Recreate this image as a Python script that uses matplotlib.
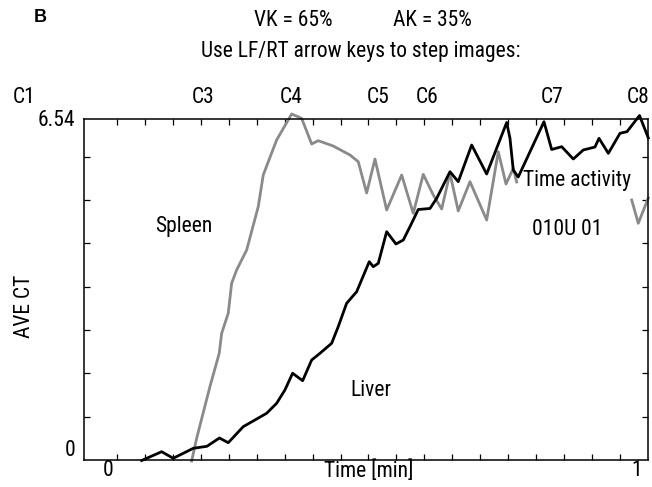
import numpy as np
import matplotlib
matplotlib.use("Agg")
import matplotlib.pyplot as plt
import matplotlib.transforms as mtransforms

plt.rcParams['font.family'] = ['Roboto Condensed', 'DejaVu Sans']

# liver curve (black), time in min vs AVE CT
liver_t = [0.0465, 0.0842, 0.1060, 0.1437, 0.1695, 0.1930, 0.2096, 0.2378,
           0.2819, 0.3007, 0.3163, 0.3308, 0.3497, 0.3667, 0.3823, 0.4043,
           0.4167, 0.4325, 0.4514, 0.4751, 0.4827, 0.4921, 0.5079, 0.5254,
           0.5392, 0.5518, 0.5674, 0.5895, 0.6021, 0.6271, 0.6427, 0.6680,
           0.6962, 0.7339, 0.7401, 0.7463, 0.7557, 0.8041, 0.8186, 0.8375,
           0.8593, 0.8782, 0.9002, 0.9077, 0.9253, 0.9473, 0.9605, 0.9840,
           1.0006]
liver_ct = [-0.01, 0.159, 0.033, 0.224, 0.263, 0.422, 0.332, 0.639,
            0.896, 1.087, 1.343, 1.663, 1.521, 1.918, 2.046, 2.238,
            2.557, 3.005, 3.228, 3.803, 3.707, 3.772, 4.379, 4.143,
            4.219, 4.475, 4.804, 4.824, 5.019, 5.529, 5.338, 6.041,
            5.485, 6.473, 6.170, 5.562, 5.428, 6.488, 5.955, 6.009,
            5.773, 5.946, 6.003, 6.170, 5.882, 6.266, 6.297, 6.607,
            6.176]

# spleen curve (grey), gap where the trace is missing
spleen_t = [0.1407, 0.1501, 0.1751, 0.1926, 0.1972, 0.2096, 0.2160, 0.2254,
            0.2443, 0.2661, 0.2755, 0.3007, 0.3290, 0.3478, 0.3667, 0.3791,
            0.4073, 0.4388, 0.4544, 0.4702, 0.4859, 0.5079, 0.5362, 0.5580,
            0.5768, 0.5957, 0.6115, 0.6271, 0.6427, 0.6648, 0.6962, 0.7181,
            0.7326, 0.7463, 0.7527, 0.8600, 0.9693, 0.9817, 1.0006]
spleen_ct = [-0.02, 0.416, 1.406, 2.046, 2.430, 2.813, 3.389, 3.644,
             4.028, 4.858, 5.466, 6.137, 6.636, 6.553, 6.061, 6.124,
             6.022, 5.850, 5.721, 5.121, 5.773, 4.795, 5.466, 4.731,
             5.479, 5.082, 4.814, 5.499, 4.776, 5.338, 4.603, 5.913,
             5.293, 5.594, 5.332, np.nan, 4.987, 4.540, 5.025]

cycle_labels = ['C1', 'C3', 'C4', 'C5', 'C6', 'C7', 'C8']
cycle_t = [-0.175, 0.162, 0.328, 0.492, 0.584, 0.819, 0.981]

y_max = 6.54

fig = plt.figure(figsize=(6.52, 4.87), dpi=100)
ax = fig.add_axes([84/652, 27/487, 564/652, 341/487])

ax.plot(spleen_t, spleen_ct, color='#8a8a8a', lw=2.0, clip_on=False,
        solid_joinstyle='round')
ax.plot(liver_t, liver_ct, color='k', lw=2.0, clip_on=False,
        solid_joinstyle='round')

ax.set_xlim(-0.062, 1.0)
ax.set_ylim(0, y_max)
ax.set_xticks(np.arange(19) / 19)
ax.set_yticks(np.arange(1, 8) * 0.831)
ax.set_xticklabels([])
ax.set_yticklabels([])
ax.tick_params(direction='in', length=4, width=0.9, top=True, right=True)
for s in ax.spines.values():
    s.set_linewidth(1.1)

fs = 15.5
# axis end labels
ax.annotate('6.54', xy=(0, y_max), xycoords=('axes fraction', 'data'),
            xytext=(-9, -2), textcoords='offset pixels', ha='right',
            va='center', fontsize=fs)
ax.annotate('0', xy=(0, 0), xycoords=('axes fraction', 'data'),
            xytext=(-9, 10), textcoords='offset pixels', ha='right',
            va='center', fontsize=fs)
ax.annotate('0', xy=(0, 0), xycoords=('data', 'axes fraction'),
            xytext=(-9, -11), textcoords='offset pixels', ha='center',
            va='center', fontsize=fs)
ax.annotate('1', xy=(1, 0), xycoords=('data', 'axes fraction'),
            xytext=(-11, -11), textcoords='offset pixels', ha='center',
            va='center', fontsize=fs)
ax.annotate('Time [min]', xy=(0.475, 0), xycoords=('data', 'axes fraction'),
            xytext=(0, -11), textcoords='offset pixels', ha='center',
            va='center', fontsize=fs)
fig.text(24/652, 1 - 306/487, 'AVE CT', rotation=90, ha='center',
         va='center', fontsize=fs)

# cycle markers above the plot
trans = mtransforms.blended_transform_factory(ax.transData, ax.transAxes)
for lab, t in zip(cycle_labels, cycle_t):
    ax.text(t, 1.062, lab, transform=trans, ha='center', va='center',
            fontsize=fs, clip_on=False)

# labels inside plot
ax.text(0.125, 4.48, 'Spleen', ha='center', va='center', fontsize=fs)
ax.text(0.478, 1.34, 'Liver', ha='center', va='center', fontsize=fs)
ax.text(0.765, 5.36, 'Time activity', ha='left', va='center', fontsize=fs)
ax.text(0.847, 4.43, '010U 01', ha='center', va='center', fontsize=fs)

# header
fig.text(40/652, 1 - 18/487, 'B', fontsize=13, fontweight='bold',
         ha='center', va='center', family='Liberation Sans')
fig.text(293/652, 1 - 20/487, 'VK = 65%', ha='center', va='center',
         fontsize=fs)
fig.text(432/652, 1 - 20/487, 'AK = 35%', ha='center', va='center',
         fontsize=fs)
fig.text(361/652, 1 - 51/487, 'Use LF/RT arrow keys to step images:',
         ha='center', va='center', fontsize=fs)

fig.savefig('out.png', dpi=100)
